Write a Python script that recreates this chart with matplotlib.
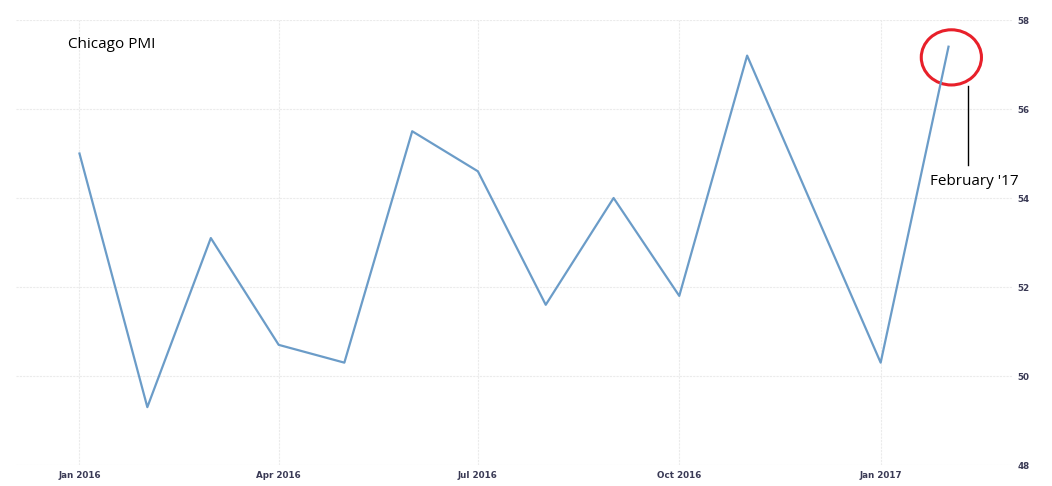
import matplotlib
matplotlib.use('Agg')
import matplotlib.pyplot as plt
import matplotlib.dates as mdates
from matplotlib.patches import Ellipse
import pandas as pd

# monthly Chicago PMI readings, Jan 2016 - Feb 2017
months = pd.date_range('2016-01-01', '2017-02-01', freq='MS')
pmi = [55.0, 49.3, 53.1, 50.7, 50.3, 55.5, 54.6, 51.6, 54.0, 51.8, 57.2, 53.8, 50.3, 57.4]
tick_dates = pd.to_datetime(['2016-01-01', '2016-04-01', '2016-07-01', '2016-10-01', '2017-01-01'])
tick_labels = ['Jan 2016', 'Apr 2016', 'Jul 2016', 'Oct 2016', 'Jan 2017']
y_ticks = [48, 50, 52, 54, 56, 58]

fig = plt.figure(figsize=(10.52, 4.86), dpi=100)
ax = fig.add_axes([16 / 1052, 21 / 486, 996 / 1052, 445 / 486])

ax.plot(months, pmi, color='#6b9cc8', linewidth=1.6)

ax.set_xlim(pd.Timestamp('2015-12-03'), pd.Timestamp('2017-03-02'))
ax.set_ylim(48, 58)
ax.set_xticks(tick_dates)
ax.set_xticklabels(tick_labels)
ax.set_yticks(y_ticks)
ax.yaxis.tick_right()
ax.tick_params(axis='both', length=0, labelsize=6.3, labelcolor='#3a3a55', pad=4)
for lab in ax.get_xticklabels() + ax.get_yticklabels():
    lab.set_fontweight('bold')
ax.grid(True, color='#ebebeb', linestyle=(0, (2, 1)), linewidth=0.8)
for s in ax.spines.values():
    s.set_visible(False)

# annotations
font = 'Open Sans'
ax.text(0.052, 0.945, 'Chicago PMI', transform=ax.transAxes, fontsize=11,
        family=font, va='center', ha='left', color='black')
feb = months[-1]
ax.add_patch(Ellipse((mdates.date2num(feb) + 1.3, 57.16), 27.5, 1.24, fill=False,
                     edgecolor='#e8202a', linewidth=2.2))
xl = mdates.date2num(feb) + 8.7
ax.plot([xl, xl], [56.52, 54.74], color='black', linewidth=1)
ax.text(xl + 3, 54.36, "February '17", fontsize=11, family=font,
        ha='center', va='center', color='black')

fig.savefig('out.png', dpi=100)
